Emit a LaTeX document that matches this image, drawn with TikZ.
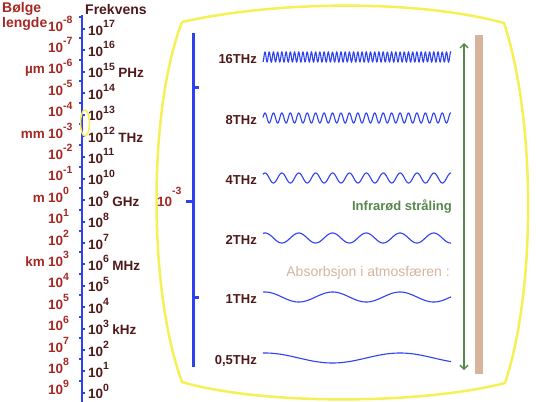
\documentclass[tikz,border=0pt]{standalone}
\usepackage{fontspec}
\setmainfont{Liberation Sans}
\usepackage{xcolor}
\usepackage{tikz}
\usetikzlibrary{arrows.meta,positioning}

\definecolor{wlred}{RGB}{165,40,35}
\definecolor{fqbrown}{RGB}{80,25,25}
\definecolor{scaleblue}{RGB}{45,65,240}
\definecolor{screenyellow}{RGB}{245,240,85}
\definecolor{irgreen}{RGB}{85,135,75}
\definecolor{absorbtan}{RGB}{215,180,155}

\newcommand{\tenpow}[2][7.5pt]{10\raisebox{#1}{\fontsize{10.5}{11}\selectfont #2}}

\begin{document}
\begin{tikzpicture}[
    x=1pt, y=-1pt,
    wllabel/.style={
        anchor=base west,
        inner sep=0pt,
        text=wlred,
        font=\fontsize{13.5}{15}\selectfont\bfseries
    },
    fqlabel/.style={
        anchor=base west,
        inner sep=0pt,
        text=fqbrown,
        font=\fontsize{13.5}{15}\selectfont\bfseries
    },
    headlabel/.style={
        inner sep=0pt,
        align=left,
        font=\fontsize{14}{15}\selectfont\bfseries
    },
    wavelabel/.style={
        anchor=base east,
        inner sep=0pt,
        text=fqbrown,
        font=\fontsize{13}{14}\selectfont\bfseries
    },
    wave/.style={
        scaleblue,
        line width=1.1pt
    },
    axisline/.style={
        scaleblue,
        line width=2pt
    },
    innerscale/.style={
        scaleblue,
        line width=3pt
    },
    screen/.style={
        screenyellow,
        line width=2.5pt,
        line join=round
    },
    irarrow/.style={
        {Straight Barb[length=4pt,width=8pt]}-{Straight Barb[length=4pt,width=8pt]},
        irgreen,
        line width=1.3pt
    },
    absorbbar/.style={
        fill=absorbtan,
        inner sep=0pt,
        minimum width=8pt,
        minimum height=339pt
    }
]

\useasboundingbox (0,0) rectangle (536,402);

% =========================
% Left scale
% =========================

\node[headlabel, text=wlred, anchor=north west] (wltitle) at (2,2.5)
{Bølge\\lengde};

\node[headlabel, text=fqbrown, anchor=base west] (fqtitle) at (85,14)
{Frekvens};

\draw[axisline] (82,15) -- (82,402);

\foreach \i in {0,...,17} {
    \draw[axisline] (82,17+21.4*\i) -- ++(-3,0);
    \draw[axisline] (82,29+21.4*\i) -- ++(3,0);
}

\foreach \e [count=\i from 0] in {-8,-7,...,9}
    \node[wllabel] (wl\i) at (48,31+21.4*\i) {\tenpow{\e}};

\foreach \e [count=\j from 0] in {17,16,...,0}
    \node[fqlabel] (fq\e) at (88,35+21.4*\j) {\tenpow{\e}};

\node[wllabel, left=3pt of wl2.base west, anchor=base east] (umunit) {µm};
\node[wllabel, left=3pt of wl5.base west, anchor=base east] (mmunit) {mm};
\node[wllabel, left=3pt of wl8.base west, anchor=base east] (munit) {m};
\node[wllabel, left=3pt of wl11.base west, anchor=base east] (kmunit) {km};

\node[fqlabel, right=3pt of fq15.base east, anchor=base west] (phz) {PHz};
\node[fqlabel, right=3pt of fq12.base east, anchor=base west] (thz) {THz};
\node[fqlabel, right=3pt of fq9.base east, anchor=base west] (ghz) {GHz};
\node[fqlabel, right=3pt of fq6.base east, anchor=base west] (mhz) {MHz};
\node[fqlabel, right=3pt of fq3.base east, anchor=base west] (khz) {kHz};

\draw[screenyellow, line width=1.5pt] (85,123) ellipse [x radius=4.5, y radius=13];

% =========================
% Zoomed window
% =========================

\draw[screen]
(182,22)
.. controls (280,0) and (420,0) .. (504,23)
.. controls (536,120) and (536,290) .. (505,383)
.. controls (420,405) and (260,405) .. (182,382)
.. controls (148,290) and (148,110) .. (182,22);

\draw[innerscale] (193,33) -- (193,367);
\draw[innerscale] (193,87) -- (199,87);
\draw[innerscale] (193,297) -- (199,297);
\draw[innerscale] (193,201) -- (186,201);

\node[wllabel] (midpow) at (157,206) {\tenpow[12pt]{-3}};

% =========================
% Waves
% =========================

\foreach \lab/\yy/\per [count=\n] in
    {16THz/57/4.22, 8THz/118/8.44, 4THz/178/16.9,
     2THz/238/33.75, 1THz/297/67.5, {0,5THz}/358/135} {
    \node[wavelabel] (freq\n) at (257,\yy+6) {\lab};
    \draw[wave] plot[domain=263:451, samples=700]
        (\x, {\yy - 5*cos(360*frac((\x-265)/\per))});
}

% =========================
% Infrared band
% =========================

\coordinate (irtop) at (464,43);
\coordinate (irbot) at (464,370);
\draw[irarrow] (irtop) -- (irbot);

\node[absorbbar] (absbar) at (479,204.5) {};

\node[anchor=base east, inner sep=0pt, text=irgreen,
      font=\fontsize{13}{14}\selectfont\bfseries] (irtext) at (452,210)
{Infrarød stråling};

\node[anchor=base east, inner sep=0pt, text=absorbtan,
      font=\fontsize{14}{15}\selectfont] (abstext) at (450,276)
{Absorbsjon i atmosfæren :};

\end{tikzpicture}
\end{document}
